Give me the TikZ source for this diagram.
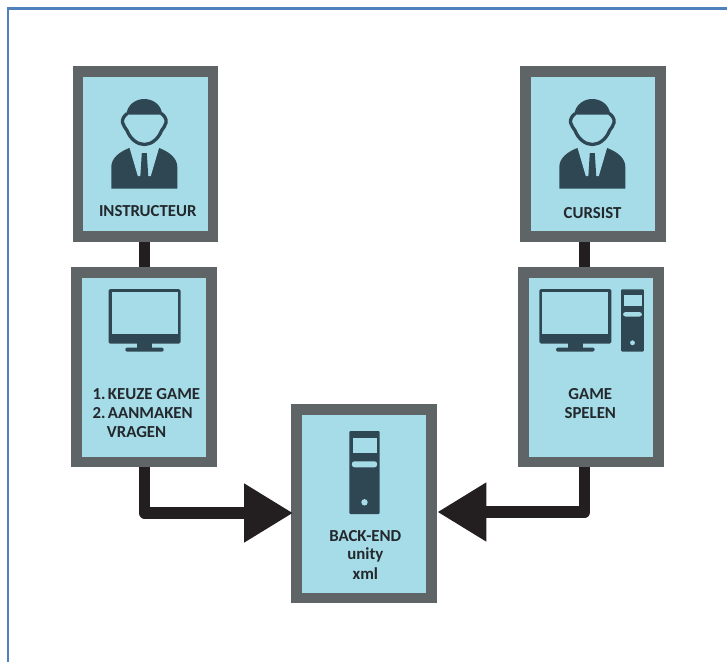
\documentclass[tikz,border=0pt]{standalone}
\usepackage{fontspec}
\setmainfont{Carlito}
\usetikzlibrary{arrows.meta}
\definecolor{boxfill}{HTML}{A6DCE8}
\definecolor{boxedge}{HTML}{5F6466}
\definecolor{icondark}{HTML}{2E4753}
\definecolor{inkdark}{HTML}{23282C}
\definecolor{linkdark}{HTML}{231F20}
\definecolor{framecol}{HTML}{4F81BD}
\tikzset{
  panel/.style={draw=boxedge,fill=boxfill,line width=10.5pt,rectangle,inner sep=0pt,minimum width=135pt},
  caption/.style={inner sep=0pt,text=inkdark,font=\fontsize{16.8}{18}\selectfont\bfseries},
  link/.style={draw=linkdark,line width=11.5pt,line join=round},
  flow/.style={link,-{Triangle[length=49pt,width=56pt]}},
  person/.pic={
    \fill[icondark] (-18,15.5) .. controls (-17,6) and (-9,0) .. (0,0) .. controls (9,0) and (17,6) .. (18,15.5) -- cycle;
    \draw[icondark,line width=3.3pt,line join=round] (-17,14.5) .. controls (-20,16.5) and (-22.3,20) .. (-21.8,23.5) .. controls (-21.3,27) and (-18.5,29) .. (-17.3,31.5)
      .. controls (-14,40) and (-7,45.5) .. (0,45.5) .. controls (7,45.5) and (14,40) .. (17.3,31.5)
      .. controls (18.5,29) and (21.3,27) .. (21.8,23.5) .. controls (22.3,20) and (20,16.5) .. (17,14.5);
    \fill[icondark] (-33,89.5) -- (-33,68) .. controls (-33,59) and (-25,53) .. (-15,49) -- (15,49) .. controls (25,53) and (33,59) .. (33,68) -- (33,89.5) -- cycle;
    \fill[boxfill] (-15,48) -- (-6.5,77) -- (6.5,77) -- (15,48) -- cycle;
    \fill[icondark] (-2.5,54) -- (2.5,54) -- (4,78) -- (-4,78) -- cycle;
  },
  monitor/.pic={
    \fill[icondark,rounded corners=1.5pt] (-36,0) rectangle (36,54.5);
    \fill[boxfill] (-33,3.2) rectangle (33,45);
    \fill[icondark] (-7.2,54) rectangle (7.2,60);
    \fill[icondark,rounded corners=1.5pt] (-19.2,58.5) rectangle (19.2,62.7);
  },
  tower/.pic={
    \fill[icondark,rounded corners=1pt] (-15.2,0) rectangle (15.2,83);
    \fill[boxfill] (-12,7) rectangle (12,22.3);
    \fill[boxfill,rounded corners=2.5pt] (-12.6,30.3) rectangle (12.6,36.3);
    \fill[boxfill] (0,71.3) circle[radius=3.2pt];
  },
}
\begin{document}
\begin{tikzpicture}[x=1pt,y=-1pt]
\useasboundingbox (0,0) rectangle (727,662);
\fill[white] (0,0) rectangle (727,662);
\draw[framecol,line width=2.4pt] (8,662) -- (8,8.5) -- (727,8.5);

\node[panel,minimum height=165pt] (instr) at (145.7,154.2) {};
\node[panel,minimum height=189.5pt] (keuze) at (144.2,367.3) {};
\node[panel,minimum height=165pt] (curs) at (593,154.2) {};
\node[panel,minimum height=189.5pt] (game) at (590.8,367.3) {};
\node[panel,minimum height=188.8pt] (back) at (364.2,503.7) {};

\coordinate (inL) at (293,513);
\coordinate (inR) at (437.4,512);
\coordinate (railL) at (144.7,300);
\coordinate (railR) at (584.7,300);

\draw[link] (instr.south -| railL) -- (keuze.north -| railL);
\draw[link] (curs.south -| railR) -- (game.north -| railR);
\draw[flow] (keuze.south -| railL) |- (inL);
\draw[flow] (game.south -| railR) |- (inR);

\pic at (144.3,99) {person};
\pic at (592.3,99) {person};
\pic at (144.5,289) {monitor};
\pic at (575.3,289) {monitor};
\pic at (364.5,431) {tower};
\pic[scale=0.75] at (632.5,289.3) {tower};

\node[caption] (t1) at (147.8,210.7) {INSTRUCTEUR};
\node[caption] (t2) at (592.5,212.7) {CURSIST};
\node[caption,anchor=west] (t3) at (92.3,394) {1.\hspace{2.5pt}KEUZE GAME};
\node[caption,anchor=west] (t4) at (92.3,412.7) {2.\hspace{2.5pt}AANMAKEN};
\node[caption,anchor=west] (t5) at (106.7,432) {VRAGEN};
\node[caption] (t6) at (590.3,394) {GAME};
\node[caption] (t7) at (590.3,413) {SPELEN};
\node[caption] (t8) at (365.3,535.7) {BACK-END};
\node[caption] (t9) at (365.3,555) {unity};
\node[caption] (t10) at (365.3,574) {xml};
\end{tikzpicture}
\end{document}
